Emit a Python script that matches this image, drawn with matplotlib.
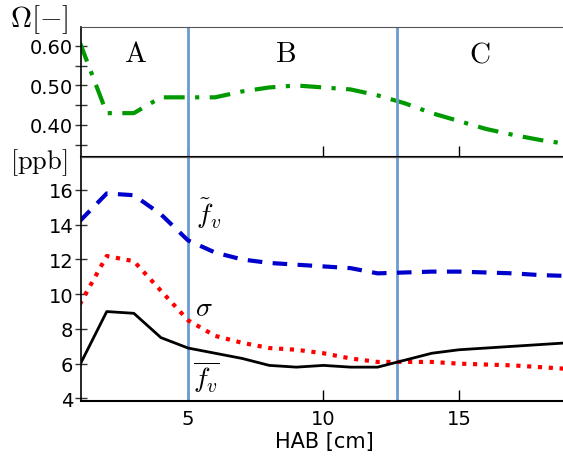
import matplotlib
matplotlib.use("Agg")
import matplotlib.pyplot as plt

plt.rcParams['mathtext.fontset'] = 'cm'
plt.rcParams['font.family'] = ['DejaVu Sans']

hab = [1, 2, 3, 4, 5, 6, 7, 8, 9, 10, 11, 12, 13, 14, 15, 16, 17, 18, 19]
omega = [0.61, 0.43, 0.43, 0.47, 0.47, 0.47, 0.485, 0.495, 0.50, 0.495, 0.49,
         0.475, 0.455, 0.43, 0.41, 0.39, 0.375, 0.362, 0.352]
f_tilde = [14.2, 15.8, 15.7, 14.6, 13.1, 12.4, 12.0, 11.8, 11.7, 11.6, 11.5,
           11.2, 11.25, 11.3, 11.3, 11.25, 11.2, 11.1, 11.05]
sigma = [9.4, 12.2, 11.9, 10.2, 8.5, 7.6, 7.2, 6.9, 6.8, 6.6, 6.3,
         6.1, 6.1, 6.1, 6.0, 5.95, 5.9, 5.8, 5.7]
f_bar = [5.9, 9.0, 8.9, 7.5, 6.9, 6.6, 6.3, 5.9, 5.8, 5.9, 5.8,
         5.8, 6.2, 6.6, 6.8, 6.9, 7.0, 7.1, 7.2]
boundaries = [5, 12.7]
zones = ["A", "B", "C"]
zone_x = [3.05, 8.6, 15.75]

fig = plt.figure(figsize=(5.63, 4.64), dpi=100)
L = 81/563
ax1 = fig.add_axes([L, 1-158/464, 1-L+0.01, (158-28)/464])
ax2 = fig.add_axes([L, 1-402/464, 1-L+0.01, (402-158)/464])

xlim = (1.05, 19.05)
vcol = '#6b9bd1'

ax1.plot(hab, omega, color='#009900', lw=3, ls=(0, (5, 2.5, 1, 2.5)))
for b in boundaries:
    ax1.axvline(b, color=vcol, lw=2)
    ax2.axvline(b, color=vcol, lw=2)
ax1.set_xlim(*xlim)
ax1.set_ylim(0.319, 0.648)
ax1.set_yticks([0.40, 0.50, 0.60])
ax1.set_yticklabels(["0.40", "0.50", "0.60"])
ax1.set_yticks([0.35, 0.45, 0.55], minor=True)
ax1.set_xticks([5, 10, 15])
ax1.set_xticklabels([])
for zx, z in zip(zone_x, zones):
    ax1.text(zx, 0.582, r"$\mathrm{%s}$" % z, fontsize=21, ha='center', va='center')

ax2.plot(hab, f_tilde, color='#0000cc', lw=3, ls=(0, (3.5, 2.5)))
ax2.plot(hab, sigma, color='#ff0000', lw=3, ls=(0, (1, 1.6)))
ax2.plot(hab, f_bar, color='black', lw=2)
ax2.set_xlim(*xlim)
ax2.set_ylim(3.85, 17.9)
ax2.set_yticks([4, 6, 8, 10, 12, 14, 16])
ax2.set_xticks([5, 10, 15])
ax2.set_xlabel("HAB [cm]", fontsize=15, labelpad=2)

ax2.text(5.3, 14.7, r"$\tilde{f}_v$", fontsize=20, ha='left', va='center')
ax2.text(5.25, 9.25, r"$\sigma$", fontsize=20, ha='left', va='center')
ax2.text(5.2, 5.3, r"$\overline{f_v}$", fontsize=20, ha='left', va='center')

fig.text(10/563, 1-20/464, r"$\Omega[-]$", fontsize=21, ha='left', va='center')
fig.text(10/563, 1-163/464, r"$[\mathrm{ppb}]$", fontsize=19, ha='left', va='center')

for ax in (ax1, ax2):
    ax.spines['right'].set_visible(False)
    ax.spines['top'].set_color('#555555')
    ax.spines['left'].set_linewidth(1.2)
    ax.spines['bottom'].set_linewidth(1.5)
    ax.tick_params(axis='y', direction='inout', length=9, width=1, labelsize=14, colors='#333333', labelcolor='black', pad=1)
    ax.tick_params(axis='y', which='minor', direction='inout', length=9, width=1, colors='#333333')
    ax.tick_params(axis='x', direction='in', length=8, width=1, labelsize=14, pad=6)
    ax.patch.set_alpha(0)

fig.savefig("out.png", dpi=100)
